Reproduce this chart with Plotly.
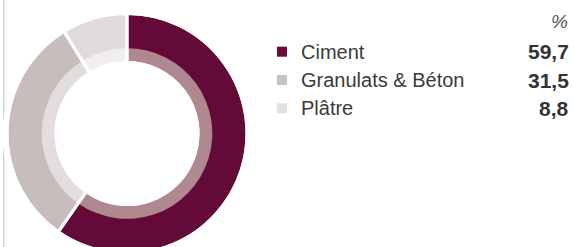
import plotly.graph_objects as go

# ---- data ----
categories = ["Ciment", "Granulats & Béton", "Plâtre"]
values = [59.7, 31.5, 8.8]
value_labels = ["59,7", "31,5", "8,8"]
unit_label = "%"

# ---- styles ----
outer_colors = ["#640A38", "#C6BDBC", "#E1DCDB"]
inner_colors = ["#B0888F", "#E3DEDD", "#F1EEEE"]
legend_colors = ["#6A0A3E", "#C9C1C0", "#E3DEDD"]

W, H = 574, 267
CX, CY = 127.0, 133.5
R_OUT = 118.5
R_MID = 85.3
R_IN = 72.5
GAP = 3.0
HALO = 6.0


def dom(r):
    return dict(x=[(CX - r) / W, (CX + r) / W], y=[0, 1])


fig = go.Figure()

# white halo around the donut (covers the left rule)
fig.add_trace(go.Pie(
    values=[1], labels=["halo"], domain=dom(R_OUT + HALO),
    hole=R_OUT / (R_OUT + HALO), marker=dict(colors=["white"], line=dict(width=0)),
    textinfo="none", hoverinfo="skip", showlegend=False, sort=False,
))

# outer ring
fig.add_trace(go.Pie(
    values=values, labels=categories, domain=dom(R_OUT),
    hole=(R_MID - 1) / R_OUT, direction="clockwise", rotation=0, sort=False,
    marker=dict(colors=outer_colors, line=dict(width=0)),
    textinfo="none", hoverinfo="label+value", showlegend=False,
))

# inner ring
fig.add_trace(go.Pie(
    values=values, labels=categories, domain=dom(R_MID),
    hole=R_IN / R_MID, direction="clockwise", rotation=0, sort=False,
    marker=dict(colors=inner_colors, line=dict(width=0)),
    textinfo="none", hoverinfo="label+value", showlegend=False,
))

# white separators across both rings
fig.add_trace(go.Pie(
    values=values, labels=categories, domain=dom(R_OUT + GAP / 2),
    hole=(R_IN - GAP / 2) / (R_OUT + GAP / 2), direction="clockwise", rotation=0, sort=False,
    marker=dict(colors=["rgba(0,0,0,0)"] * 3, line=dict(width=GAP, color="white")),
    textinfo="none", hoverinfo="skip", showlegend=False,
))

# legend squares
fig.add_trace(go.Scatter(
    x=[282] * len(categories), y=categories, mode="markers",
    marker=dict(symbol="square", size=10, color=legend_colors, line=dict(width=0)),
    hoverinfo="skip", showlegend=False,
))

annotations = []
for cat, vl in zip(categories, value_labels):
    annotations.append(dict(
        x=299 / W, xref="paper", y=cat, yref="y", text=cat, showarrow=False,
        xanchor="left", yanchor="middle",
        font=dict(family="Liberation Sans, Arial, sans-serif", size=20, color="#3a3a3a"),
    ))
    annotations.append(dict(
        x=570.5 / W, xref="paper", y=cat, yref="y", text="<b>" + vl + "</b>", showarrow=False,
        xanchor="right", yanchor="middle",
        font=dict(family="Liberation Sans, Arial, sans-serif", size=21, color="#333333"),
    ))
annotations.append(dict(
    x=570 / W, xref="paper", y=1 - 22 / H, yref="paper", text="<i>" + unit_label + "</i>",
    showarrow=False, xanchor="right", yanchor="middle",
    font=dict(family="Liberation Sans, Arial, sans-serif", size=19, color="#555555"),
))

S = 28.3
ROW0 = 51.7
v_top = -ROW0 / S
v_bot = v_top + H / S

fig.update_layout(
    width=W, height=H,
    margin=dict(l=0, r=0, t=0, b=0),
    paper_bgcolor="white", plot_bgcolor="rgba(0,0,0,0)",
    showlegend=False,
    xaxis=dict(range=[0, W], domain=[0, 1], visible=False, fixedrange=True),
    yaxis=dict(type="category", categoryorder="array", categoryarray=categories,
               range=[v_bot, v_top], domain=[0, 1], visible=False, fixedrange=True),
    annotations=annotations,
    shapes=[dict(type="line", xref="paper", yref="paper", x0=3.8 / W, x1=3.8 / W, y0=0, y1=1,
                 line=dict(color="#C9C9D1", width=1.2), layer="below")],
)

fig.write_html(
    "out.html",
    config={"displayModeBar": False},
    post_script="document.body.style.margin='0';document.body.style.overflow='hidden';document.documentElement.style.overflow='hidden';",
)
